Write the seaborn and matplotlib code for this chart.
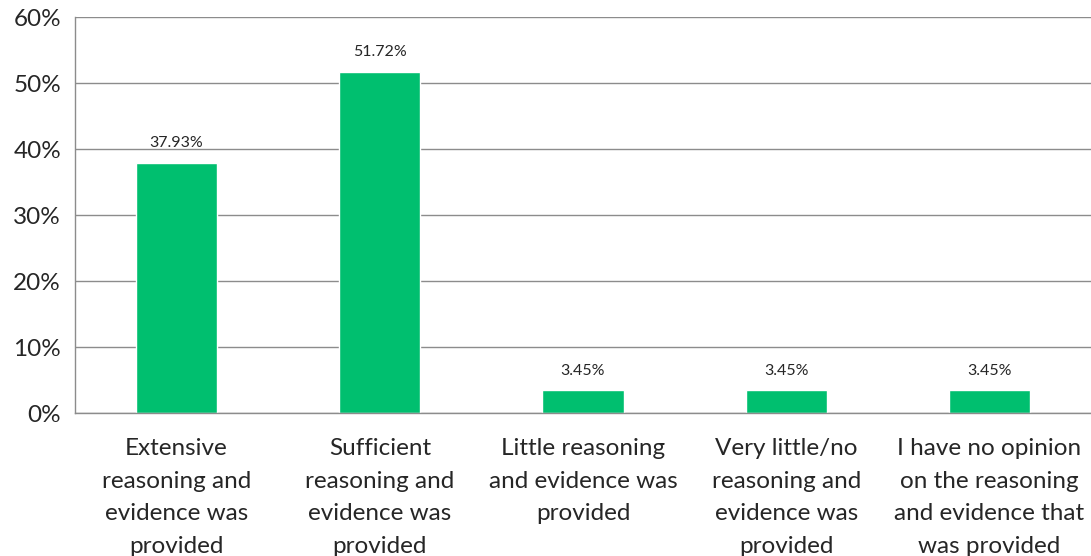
import matplotlib
matplotlib.use('Agg')
import matplotlib.pyplot as plt
import seaborn as sns
import numpy as np
import pandas as pd
from matplotlib.ticker import FixedLocator, PercentFormatter

categories = [
    'Extensive\nreasoning and\nevidence was\nprovided',
    'Sufficient\nreasoning and\nevidence was\nprovided',
    'Little reasoning\nand evidence was\nprovided',
    'Very little/no\nreasoning and\nevidence was\nprovided',
    'I have no opinion\non the reasoning\nand evidence that\nwas provided',
]
values = [37.93, 51.72, 3.45, 3.45, 3.45]
yticks = [0, 10, 20, 30, 40, 50, 60]

df = pd.DataFrame({'category': categories, 'value': values})

sns.set_style('white')
plt.rcParams['font.family'] = ['Lato', 'DejaVu Sans']

fig = plt.figure(figsize=(10.91, 5.56), dpi=100)
ax = fig.add_axes([75 / 1091, 1 - 413 / 556, 1 - 75 / 1091, (413 - 17) / 556])

sns.barplot(data=df, x='category', y='value', color='#00BF6F', width=0.4,
            saturation=1, ax=ax)

grid_color = '#8C8C8C'
ax.set_ylim(0, 60)
ax.set_xlim(-0.5, len(categories) - 0.5)
ax.set_yticks(yticks)
ax.yaxis.set_major_formatter(PercentFormatter(decimals=0))
ax.yaxis.grid(True, color=grid_color, linewidth=1)
ax.set_axisbelow(True)
ax.xaxis.set_minor_locator(FixedLocator(np.arange(-0.5, len(categories), 1.0)))
ax.tick_params(axis='x', which='major', length=0, pad=18, labelsize=17.5)
ax.tick_params(axis='x', which='minor', length=7, color=grid_color, width=1)
ax.tick_params(axis='y', length=8, color=grid_color, width=1, labelsize=17.5, pad=2)
for lbl in ax.get_xticklabels():
    lbl.set_linespacing(1.69)

for side in ['top', 'right']:
    ax.spines[side].set_visible(False)
for side in ['left', 'bottom']:
    ax.spines[side].set_color(grid_color)
    ax.spines[side].set_linewidth(1)

for i, v in enumerate(values):
    ax.annotate(f'{v:.2f}%', (i, v), xytext=(0, 9), textcoords='offset points',
                ha='center', va='bottom', fontsize=11.5)

ax.set_xlabel('')
ax.set_ylabel('')
fig.savefig('out.png', dpi=100)
